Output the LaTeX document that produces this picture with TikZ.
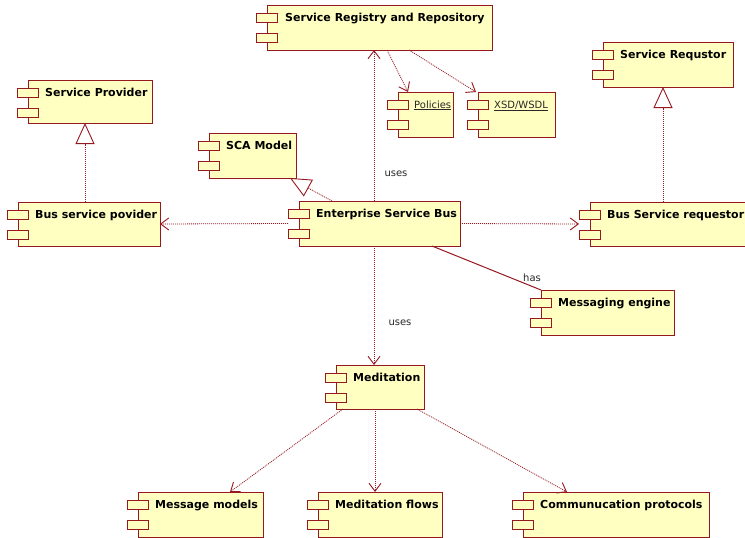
\documentclass[tikz,border=0pt]{standalone}
\usepackage{fontspec}
\setmainfont{DejaVu Sans}
\usetikzlibrary{arrows.meta}

\definecolor{umlline}{RGB}{150,24,32}
\definecolor{umlfill}{RGB}{255,255,194}
\definecolor{umltext}{RGB}{40,40,40}

\tikzset{
  compbody/.style={rectangle, draw=umlline, fill=umlfill, line width=1pt, inner sep=0pt, outer sep=0pt},
  compport/.style={rectangle, draw=umlline, fill=umlfill, line width=1pt, inner sep=0pt, outer sep=0pt,
                   minimum width=21pt, minimum height=9pt},
  comptext/.style={inner sep=0pt, font=\bfseries\fontsize{11}{13}\selectfont},
  artetext/.style={inner sep=0pt, font=\fontsize{10}{12}\selectfont, text=umltext},
  edgetext/.style={inner sep=0pt, font=\fontsize{10}{12}\selectfont, text=umltext},
  dep/.style={draw=umlline, line width=0.8pt, dash pattern=on 1pt off 1pt,
              -{Straight Barb[length=8pt,width=12pt,line width=0.9pt]}},
  gen/.style={draw=umlline, line width=0.8pt, dash pattern=on 1pt off 1pt,
              -{Triangle[length=21pt,width=19pt,fill=white,line width=0.9pt]}},
  assoc/.style={draw=umlline, line width=1pt},
}

% component box: name, left, top, right, bottom, title, title style, title offset
\newcommand\umlcomponent[8]{%
  \node[compbody, anchor=north west, minimum width=#4pt-#2pt, minimum height=#5pt-#3pt] (#1) at (#2,#3) {};
  \node[#7, anchor=base west] (#1-title) at ([xshift=#8pt,yshift=-16pt]#1.north west) {#6};
  \node[compport, anchor=north west] (#1-p1) at ([xshift=-11pt,yshift=-8pt]#1.north west) {};
  \node[compport, anchor=north west] (#1-p2) at ([xshift=-11pt,yshift=-28pt]#1.north west) {};
}

\begin{document}
\begin{tikzpicture}[x=1pt, y=-1pt]
  \useasboundingbox[fill=white] (0,0) rectangle (745,538);

  % components
  \umlcomponent{srr}{267}{5}{492}{50}{Service Registry and Repository}{comptext}{18}
  \umlcomponent{pol}{398}{92}{453}{137}{\underline{Policies}}{artetext}{16}
  \umlcomponent{xsd}{478}{92}{555}{137}{\underline{XSD/WSDL}}{artetext}{16}
  \umlcomponent{sp}{28}{80}{152}{123}{Service Provider}{comptext}{17}
  \umlcomponent{bsp}{18}{202}{160}{246}{Bus service povider}{comptext}{17}
  \umlcomponent{sca}{209}{133}{296}{178}{SCA Model}{comptext}{17}
  \umlcomponent{esb}{299}{201}{460}{246}{Enterprise Service Bus}{comptext}{17}
  \umlcomponent{sr}{603}{42}{733}{87}{Service Requstor}{comptext}{17}
  \umlcomponent{bsr}{590}{202}{762}{246}{Bus Service requestor}{comptext}{17}
  \umlcomponent{me}{541}{290}{674}{335}{Messaging engine}{comptext}{17}
  \umlcomponent{med}{336}{365}{424}{409}{Meditation}{comptext}{17}
  \umlcomponent{mm}{138}{492}{263}{537}{Message models}{comptext}{17}
  \umlcomponent{mf}{318}{492}{442}{537}{Meditation flows}{comptext}{17}
  \umlcomponent{cp}{523}{492}{709}{537}{Communucation protocols}{comptext}{17}

  % dependencies
  \draw[dep] ([xshift=75pt]esb.north west) coordinate (esbup) -- (esbup |- srr.south);
  \draw[dep] ([xshift=120pt]srr.south west) -- ([xshift=10pt]pol.north west);
  \draw[dep] ([xshift=142pt]srr.south west) -- ([xshift=-2pt]xsd.north west);
  \draw[dep] ([xshift=-11pt]esb.west) -- (bsp.east);
  \draw[dep] (esb.east) -- ([xshift=-11pt]bsr.west);
  \draw[dep] ([xshift=75pt]esb.south west) coordinate (esbdown) -- (esbdown |- med.north);
  \draw[dep] ([xshift=7pt]med.south west) -- ([xshift=92pt]mm.north west);
  \draw[dep] ([xshift=39pt]med.south west) coordinate (meddown) -- (meddown |- mf.north);
  \draw[dep] ([xshift=-7pt]med.south east) -- ([xshift=44pt]cp.north west);

  % realisations
  \draw[gen] ([xshift=67pt]bsp.north west) coordinate (bspup) -- (bspup |- sp.south);
  \draw[gen] ([xshift=73pt]bsr.north west) coordinate (bsrup) -- (bsrup |- sr.south);
  \draw[gen] ([xshift=33pt]esb.north west) -- ([xshift=-6pt]sca.south east);

  % association
  \draw[assoc] ([xshift=133pt]esb.south west) -- (me.north west);

  % labels
  \node[edgetext] (uses1) at (396,174) {uses};
  \node[edgetext] (uses2) at (400,323) {uses};
  \node[edgetext] (has) at (532,278) {has};
\end{tikzpicture}
\end{document}
